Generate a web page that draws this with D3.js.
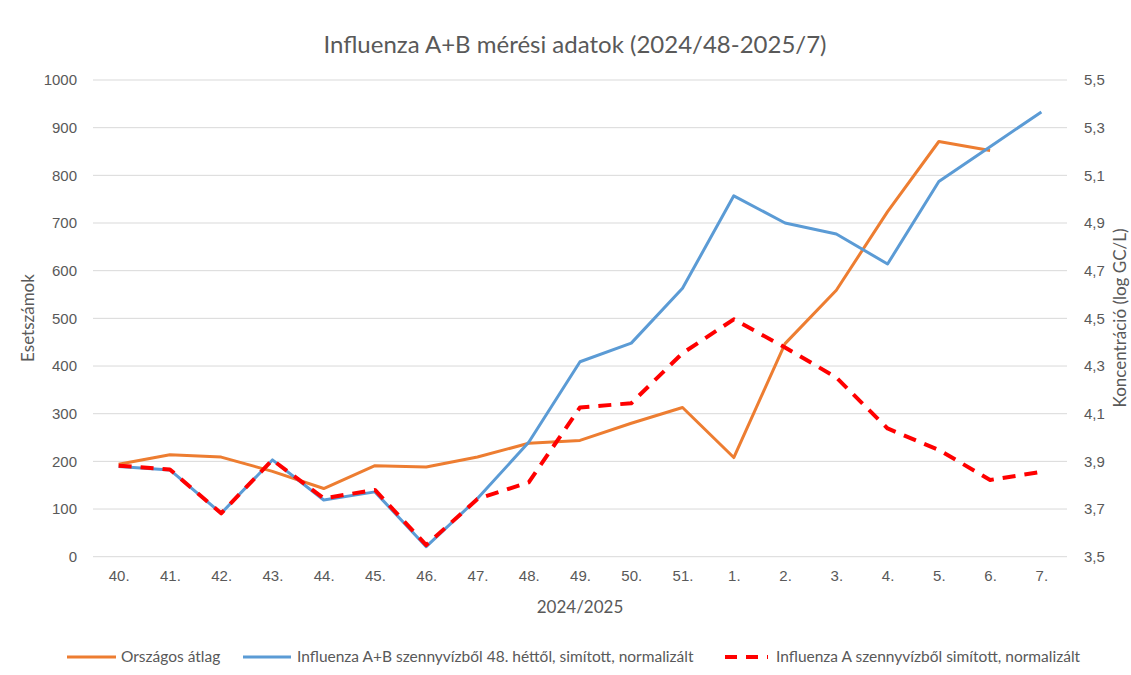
<!DOCTYPE html>
<html>
<head>
<meta charset="utf-8">
<script src="https://cdn.jsdelivr.net/npm/d3@7"></script>
<style>
  body { margin: 0; background: #fff; }
  svg { font-family: Lato, "Open Sans", sans-serif; }
</style>
</head>
<body>
<svg id="chart" width="1131" height="675"></svg>
<script>
// week labels
const weeks = ['40.', '41.', '42.', '43.', '44.', '45.', '46.', '47.', '48.', '49.', '50.', '51.',
  '1.', '2.', '3.', '4.', '5.', '6.', '7.'];
// left axis: case counts
const orszagos = [194, 214, 209, 179, 143, 191, 188, 209, 238, 244, 280, 313,
  208, 447, 559, 724, 871, 852, null];
// right axis: log GC/L
const fluAB = [3.878, 3.864, 3.682, 3.906, 3.738, 3.772, 3.542, 3.744, 3.98, 4.318, 4.396, 4.626,
  5.014, 4.90, 4.854, 4.728, 5.074, 5.22, 5.366];
const fluA = [3.882, 3.866, 3.682, 3.906, 3.745, 3.78, 3.549, 3.742, 3.812, 4.126, 4.144, 4.354,
  4.496, 4.378, 4.252, 4.038, 3.948, 3.822, 3.856];
const leftTicks = [0, 100, 200, 300, 400, 500, 600, 700, 800, 900, 1000];
const rightTicks = [3.5, 3.7, 3.9, 4.1, 4.3, 4.5, 4.7, 4.9, 5.1, 5.3, 5.5];

const title = 'Influenza A+B mérési adatok (2024/48-2025/7)';
const seriesNames = ['Országos átlag', 'Influenza A+B szennyvízből 48. héttől, simított, normalizált',
  'Influenza A szennyvízből simított, normalizált'];
const colors = ['#ED7D31', '#5B9BD5', '#FF0000'];

const svg = d3.select('#chart');
const textColor = '#595959';
const plotL = 93, plotR = 1067, plotT = 80, plotB = 556.7;

const x = d3.scalePoint().domain(weeks).range([plotL, plotR]).padding(0.5);
const yL = d3.scaleLinear().domain([0, 1000]).range([plotB, plotT]);
const yR = d3.scaleLinear().domain([3.5, 5.5]).range([plotB, plotT]);

// gridlines
svg.append('g').selectAll('line').data(leftTicks).enter().append('line')
  .attr('x1', plotL).attr('x2', plotR)
  .attr('y1', d => yL(d)).attr('y2', d => yL(d))
  .style('stroke', '#d9d9d9').style('stroke-width', 1);

// left axis
const axL = svg.append('g').attr('transform', `translate(${plotL},0)`)
  .call(d3.axisLeft(yL).tickValues(leftTicks).tickSize(0).tickPadding(16).tickFormat(d3.format('d')));
axL.select('.domain').remove();
axL.selectAll('text').style('font-size', '15px').attr('fill', textColor);

// right axis
const axR = svg.append('g').attr('transform', `translate(${plotR},0)`)
  .call(d3.axisRight(yR).tickValues(rightTicks).tickSize(0).tickPadding(17)
    .tickFormat(d => d3.format('.1f')(d).replace('.', ',')));
axR.select('.domain').remove();
axR.selectAll('text').style('font-size', '15px').attr('fill', textColor);

// bottom axis
const axB = svg.append('g').attr('transform', `translate(0,${plotB})`)
  .call(d3.axisBottom(x).tickSize(0).tickPadding(14));
axB.select('.domain').remove();
axB.selectAll('text').style('font-size', '15px').attr('fill', textColor);

// titles
svg.append('text').attr('x', 575).attr('y', 53).attr('text-anchor', 'middle')
  .style('font-size', '24px').attr('fill', textColor).text(title);
svg.append('text').attr('x', 580).attr('y', 613).attr('text-anchor', 'middle')
  .style('font-size', '17px').attr('fill', textColor).text('2024/2025');
svg.append('text').attr('transform', 'translate(34,318) rotate(-90)').attr('text-anchor', 'middle')
  .style('font-size', '17px').attr('fill', textColor).text('Esetszámok');
svg.append('text').attr('transform', 'translate(1126,318) rotate(-90)').attr('text-anchor', 'middle')
  .style('font-size', '17px').attr('fill', textColor).text('Koncentráció (log GC/L)');

// lines
const lineL = d3.line().defined(d => d[1] != null).x(d => x(d[0])).y(d => yL(d[1]));
const lineR = d3.line().x(d => x(d[0])).y(d => yR(d[1]));

svg.append('path').datum(weeks.map((w, i) => [w, orszagos[i]]))
  .attr('d', lineL).attr('fill', 'none')
  .style('stroke', colors[0]).style('stroke-width', 3).style('stroke-linejoin', 'round');
svg.append('path').datum(weeks.map((w, i) => [w, fluAB[i]]))
  .attr('d', lineR).attr('fill', 'none')
  .style('stroke', colors[1]).style('stroke-width', 3).style('stroke-linejoin', 'round');
svg.append('path').datum(weeks.map((w, i) => [w, fluA[i]]))
  .attr('d', lineR).attr('fill', 'none')
  .style('stroke', colors[2]).style('stroke-width', 4)
  .style('stroke-dasharray', '13,9').style('stroke-linejoin', 'round');

// legend
const legendY = 657;
const legend = [
  { x1: 67, x2: 116, tx: 121, dash: null, w: 3 },
  { x1: 243, x2: 291, tx: 297, dash: null, w: 3 },
  { x1: 725, x2: 768, tx: 776, dash: '12,9', w: 4 }
];
const lg = svg.append('g').selectAll('g').data(legend).enter().append('g');
lg.append('line')
  .attr('x1', d => d.x1).attr('x2', d => d.x2).attr('y1', legendY).attr('y2', legendY)
  .style('stroke', (d, i) => colors[i]).style('stroke-width', d => d.w)
  .style('stroke-dasharray', d => d.dash);
lg.append('text').attr('x', d => d.tx).attr('y', legendY + 5)
  .style('font-size', '15.5px').attr('fill', textColor)
  .text((d, i) => seriesNames[i]);
</script>
</body>
</html>
